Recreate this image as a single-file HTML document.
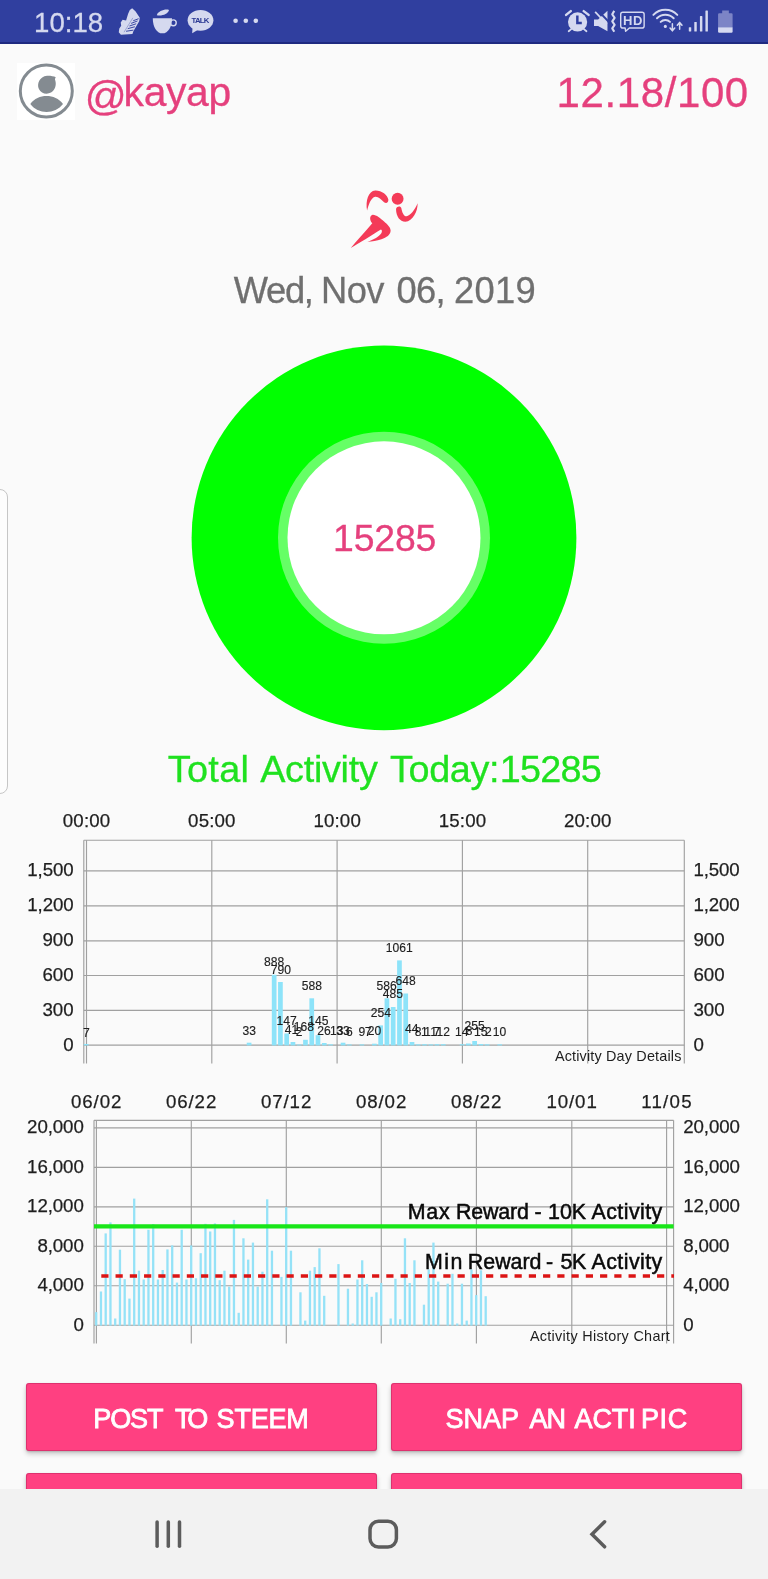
<!DOCTYPE html>
<html><head><meta charset="utf-8"><title>Actifit</title>
<style>
html,body{margin:0;padding:0;}
body{width:768px;height:1579px;background:#fafafa;position:relative;overflow:hidden;font-family:"Liberation Sans", sans-serif;}
#status{position:absolute;left:0;top:0;width:768px;height:44.3px;background:#303f9f;}
#status .sh{position:absolute;left:0;top:42.4px;width:768px;height:1.9px;background:#1f2a80;}
#handle{position:absolute;left:-10px;top:488.5px;width:16px;height:303px;border:1.6px solid #c6c6c6;border-radius:8px;background:#fdfdfd;}
#avatarbg{position:absolute;left:17px;top:63px;width:58px;height:57px;background:#fff;}
.btn{position:absolute;background:#ff4081;border-radius:3px;box-shadow:0 3px 5px rgba(0,0,0,0.2),0 1px 2px rgba(0,0,0,0.14),inset 0 0 0 1px rgba(150,20,70,0.32);}
#nav{position:absolute;left:0;top:1488.7px;width:768px;height:90px;background:#f2f2f2;}
svg{position:absolute;left:0;top:0;}
#ov{will-change:transform;opacity:0.999;}
text{font-family:"Liberation Sans", sans-serif;}
</style></head><body>
<div id="status"><div class="sh"></div></div>
<div id="handle"></div>
<div id="avatarbg"></div>
<div class="btn" style="left:25.6px;top:1383.1px;width:351px;height:67.8px;"></div>
<div class="btn" style="left:391.2px;top:1383.1px;width:350.7px;height:67.8px;"></div>
<div class="btn" style="left:25.6px;top:1472.5px;width:351px;height:67.8px;"></div>
<div class="btn" style="left:391.2px;top:1472.5px;width:350.7px;height:67.8px;"></div>
<div id="nav"></div>
<svg id="ov" width="768" height="1579" viewBox="0 0 768 1579">
<text x="34.1" y="32.2" font-size="27.6" fill="#d6daf0" textLength="69.1" lengthAdjust="spacing" stroke="#d6daf0" stroke-width="0.3">10:18</text>
<circle cx="235.6" cy="20.8" r="2.3" fill="#d6daf0"/>
<circle cx="245.8" cy="20.8" r="2.3" fill="#d6daf0"/>
<circle cx="255.8" cy="20.8" r="2.3" fill="#d6daf0"/>
<circle cx="46.3" cy="91" r="26" fill="none" stroke="#848b91" stroke-width="3"/>
<path d="M47,75.8 C50,75.6 53.5,76.2 55.8,77.2 C55,78.3 54.8,79.4 55.3,80.6 C56.6,85 55.2,90.2 51,92.6 C46.5,95 41,93.4 38.9,89 C36.6,84 39.5,76.6 47,75.8 Z" fill="#848b91"/>
<path d="M30.3,104 C38,93.4 55,93.4 63,104 C55,114.5 38,114.5 30.3,104 Z" fill="#848b91"/>
<text x="84.7" y="109.5" font-size="41.3" fill="#e5407d" stroke="#e5407d" stroke-width="0.3">@</text>
<text x="123.6" y="106.3" font-size="40.8" fill="#e5407d" textLength="107.5" lengthAdjust="spacing" stroke="#e5407d" stroke-width="0.3">kayap</text>
<text x="556.5" y="106.5" font-size="42" fill="#e5407d" textLength="191.7" lengthAdjust="spacing" stroke="#e5407d" stroke-width="0.3">12.18/100</text>
<svg x="345" y="185" width="80" height="70" viewBox="0 0 768 672">
<g fill="#f43b58">
<circle cx="505" cy="132" r="57"/>
<path d="M212,245 C195,150 225,55 290,52 C350,50 410,95 416,140 C418,170 395,182 375,165 C345,135 320,108 290,112 C250,120 225,190 212,245 Z"/>
<path d="M490,235 C488,205 535,195 541,222 C548,262 565,300 590,300 C630,290 670,240 697,175 C700,250 650,350 580,352 C525,352 492,300 490,235 Z"/>
<path d="M265,285 C300,283 340,320 375,350 C410,380 440,410 438,440 C436,480 400,505 350,520 C305,533 260,542 215,545 C275,524 330,495 350,460 C358,445 355,430 345,427 C250,486 140,556 55,605 C120,530 200,440 262,368 C245,350 225,300 265,285 Z"/>
</g></svg>
<text x="233.7" y="302.5" font-size="36.3" fill="#6f6f6f" textLength="80.2" lengthAdjust="spacing" stroke="#6f6f6f" stroke-width="0.3">Wed,</text>
<text x="321.0" y="302.5" font-size="36.3" fill="#6f6f6f" textLength="63.4" lengthAdjust="spacing" stroke="#6f6f6f" stroke-width="0.3">Nov</text>
<text x="396.6" y="302.5" font-size="36.3" fill="#6f6f6f" textLength="49.1" lengthAdjust="spacing" stroke="#6f6f6f" stroke-width="0.3">06,</text>
<text x="454.0" y="302.5" font-size="36.3" fill="#6f6f6f" textLength="81.6" lengthAdjust="spacing" stroke="#6f6f6f" stroke-width="0.3">2019</text>
<circle cx="384" cy="537.8" r="192.4" fill="#00ff00"/>
<circle cx="384" cy="537.8" r="106" fill="#66ff66"/>
<circle cx="384" cy="537.8" r="96.5" fill="#ffffff"/>
<text x="333.0" y="550.7" font-size="37.4" fill="#e5407d" textLength="103.4" lengthAdjust="spacing" stroke="#e5407d" stroke-width="0.3">15285</text>
<text x="167.7" y="782.1" font-size="37.8" fill="#1fe11f" textLength="81.3" lengthAdjust="spacing" stroke="#1fe11f" stroke-width="0.3">Total</text>
<text x="260.2" y="782.1" font-size="37.8" fill="#1fe11f" textLength="117.6" lengthAdjust="spacing" stroke="#1fe11f" stroke-width="0.3">Activity</text>
<text x="390.0" y="782.1" font-size="37.8" fill="#1fe11f" textLength="109.4" lengthAdjust="spacing" stroke="#1fe11f" stroke-width="0.3">Today:</text>
<text x="499.8" y="782.1" font-size="37.8" fill="#1fe11f" textLength="102.0" lengthAdjust="spacing" stroke="#1fe11f" stroke-width="0.3">15285</text>
<line x1="83.8" y1="870.8" x2="684.3" y2="870.8" stroke="#a0a0a0" stroke-width="1.15"/>
<text x="73.6" y="876.3" font-size="18.7" fill="#1e1e1e" text-anchor="end" textLength="46.3" lengthAdjust="spacing" stroke="#1e1e1e" stroke-width="0.25">1,500</text>
<text x="693.4" y="876.3" font-size="18.7" fill="#1e1e1e" textLength="46.3" lengthAdjust="spacing" stroke="#1e1e1e" stroke-width="0.25">1,500</text>
<line x1="83.8" y1="905.9" x2="684.3" y2="905.9" stroke="#a0a0a0" stroke-width="1.15"/>
<text x="73.6" y="911.4" font-size="18.7" fill="#1e1e1e" text-anchor="end" textLength="46.3" lengthAdjust="spacing" stroke="#1e1e1e" stroke-width="0.25">1,200</text>
<text x="693.4" y="911.4" font-size="18.7" fill="#1e1e1e" textLength="46.3" lengthAdjust="spacing" stroke="#1e1e1e" stroke-width="0.25">1,200</text>
<line x1="83.8" y1="940.8" x2="684.3" y2="940.8" stroke="#a0a0a0" stroke-width="1.15"/>
<text x="73.6" y="946.3" font-size="18.7" fill="#1e1e1e" text-anchor="end" textLength="31.2" lengthAdjust="spacing" stroke="#1e1e1e" stroke-width="0.25">900</text>
<text x="693.4" y="946.3" font-size="18.7" fill="#1e1e1e" textLength="31.2" lengthAdjust="spacing" stroke="#1e1e1e" stroke-width="0.25">900</text>
<line x1="83.8" y1="975.5" x2="684.3" y2="975.5" stroke="#a0a0a0" stroke-width="1.15"/>
<text x="73.6" y="981.0" font-size="18.7" fill="#1e1e1e" text-anchor="end" textLength="31.2" lengthAdjust="spacing" stroke="#1e1e1e" stroke-width="0.25">600</text>
<text x="693.4" y="981.0" font-size="18.7" fill="#1e1e1e" textLength="31.2" lengthAdjust="spacing" stroke="#1e1e1e" stroke-width="0.25">600</text>
<line x1="83.8" y1="1010.3" x2="684.3" y2="1010.3" stroke="#a0a0a0" stroke-width="1.15"/>
<text x="73.6" y="1015.8" font-size="18.7" fill="#1e1e1e" text-anchor="end" textLength="31.2" lengthAdjust="spacing" stroke="#1e1e1e" stroke-width="0.25">300</text>
<text x="693.4" y="1015.8" font-size="18.7" fill="#1e1e1e" textLength="31.2" lengthAdjust="spacing" stroke="#1e1e1e" stroke-width="0.25">300</text>
<line x1="83.8" y1="1045.1" x2="684.3" y2="1045.1" stroke="#a0a0a0" stroke-width="1.15"/>
<text x="73.6" y="1050.6" font-size="18.7" fill="#1e1e1e" text-anchor="end" stroke="#1e1e1e" stroke-width="0.25">0</text>
<text x="693.4" y="1050.6" font-size="18.7" fill="#1e1e1e" stroke="#1e1e1e" stroke-width="0.25">0</text>
<line x1="83.8" y1="840.2" x2="684.3" y2="840.2" stroke="#a0a0a0" stroke-width="1.15"/>
<line x1="83.8" y1="840.2" x2="83.8" y2="1063.5" stroke="#a0a0a0" stroke-width="1.15"/>
<line x1="684.3" y1="840.2" x2="684.3" y2="1063.5" stroke="#a0a0a0" stroke-width="1.15"/>
<line x1="86.5" y1="840.2" x2="86.5" y2="1063.5" stroke="#a0a0a0" stroke-width="1.15"/>
<text x="86.5" y="827.4" font-size="18.7" fill="#1e1e1e" text-anchor="middle" textLength="47.4" lengthAdjust="spacing" stroke="#1e1e1e" stroke-width="0.25">00:00</text>
<line x1="211.8" y1="840.2" x2="211.8" y2="1063.5" stroke="#a0a0a0" stroke-width="1.15"/>
<text x="211.8" y="827.4" font-size="18.7" fill="#1e1e1e" text-anchor="middle" textLength="47.4" lengthAdjust="spacing" stroke="#1e1e1e" stroke-width="0.25">05:00</text>
<line x1="337.1" y1="840.2" x2="337.1" y2="1063.5" stroke="#a0a0a0" stroke-width="1.15"/>
<text x="337.1" y="827.4" font-size="18.7" fill="#1e1e1e" text-anchor="middle" textLength="47.4" lengthAdjust="spacing" stroke="#1e1e1e" stroke-width="0.25">10:00</text>
<line x1="462.4" y1="840.2" x2="462.4" y2="1063.5" stroke="#a0a0a0" stroke-width="1.15"/>
<text x="462.4" y="827.4" font-size="18.7" fill="#1e1e1e" text-anchor="middle" textLength="47.4" lengthAdjust="spacing" stroke="#1e1e1e" stroke-width="0.25">15:00</text>
<line x1="587.7" y1="840.2" x2="587.7" y2="1063.5" stroke="#a0a0a0" stroke-width="1.15"/>
<text x="587.7" y="827.4" font-size="18.7" fill="#1e1e1e" text-anchor="middle" textLength="47.4" lengthAdjust="spacing" stroke="#1e1e1e" stroke-width="0.25">20:00</text>
<rect x="83.85" y="1044.0" width="4.7" height="1.4" fill="#8de3f9"/>
<rect x="246.74" y="1042.7" width="4.7" height="2.7" fill="#8de3f9"/>
<rect x="271.80" y="974.8" width="4.7" height="70.6" fill="#8de3f9"/>
<rect x="278.06" y="982.0" width="4.7" height="63.4" fill="#8de3f9"/>
<rect x="284.33" y="1033.5" width="4.7" height="11.9" fill="#8de3f9"/>
<rect x="290.59" y="1042.0" width="4.7" height="3.4" fill="#8de3f9"/>
<rect x="296.86" y="1044.5" width="4.7" height="0.9" fill="#8de3f9"/>
<rect x="303.12" y="1039.8" width="4.7" height="5.6" fill="#8de3f9"/>
<rect x="309.39" y="998.3" width="4.7" height="47.1" fill="#8de3f9"/>
<rect x="315.65" y="1035.2" width="4.7" height="10.2" fill="#8de3f9"/>
<rect x="321.92" y="1043.0" width="4.7" height="2.4" fill="#8de3f9"/>
<rect x="328.18" y="1044.3" width="4.7" height="1.1" fill="#8de3f9"/>
<rect x="340.71" y="1042.7" width="4.7" height="2.7" fill="#8de3f9"/>
<rect x="346.98" y="1044.4" width="4.7" height="1.0" fill="#8de3f9"/>
<rect x="359.51" y="1044.4" width="4.7" height="1.0" fill="#8de3f9"/>
<rect x="372.04" y="1043.7" width="4.7" height="1.7" fill="#8de3f9"/>
<rect x="378.30" y="1025.4" width="4.7" height="20.0" fill="#8de3f9"/>
<rect x="384.57" y="998.3" width="4.7" height="47.1" fill="#8de3f9"/>
<rect x="390.83" y="1007.0" width="4.7" height="38.4" fill="#8de3f9"/>
<rect x="397.10" y="960.4" width="4.7" height="85.0" fill="#8de3f9"/>
<rect x="403.36" y="993.5" width="4.7" height="51.9" fill="#8de3f9"/>
<rect x="409.63" y="1042.0" width="4.7" height="3.4" fill="#8de3f9"/>
<rect x="415.89" y="1044.3" width="4.7" height="1.1" fill="#8de3f9"/>
<rect x="422.16" y="1044.2" width="4.7" height="1.2" fill="#8de3f9"/>
<rect x="428.42" y="1044.4" width="4.7" height="1.0" fill="#8de3f9"/>
<rect x="434.69" y="1044.2" width="4.7" height="1.2" fill="#8de3f9"/>
<rect x="440.95" y="1044.2" width="4.7" height="1.2" fill="#8de3f9"/>
<rect x="459.75" y="1044.2" width="4.7" height="1.2" fill="#8de3f9"/>
<rect x="466.01" y="1043.5" width="4.7" height="1.9" fill="#8de3f9"/>
<rect x="472.28" y="1041.0" width="4.7" height="4.4" fill="#8de3f9"/>
<rect x="478.54" y="1044.0" width="4.7" height="1.4" fill="#8de3f9"/>
<rect x="484.81" y="1044.3" width="4.7" height="1.1" fill="#8de3f9"/>
<rect x="497.34" y="1044.3" width="4.7" height="1.1" fill="#8de3f9"/>
<text x="86.3" y="1036.8" font-size="12.1" fill="#1e1e1e" text-anchor="middle" stroke="#1e1e1e" stroke-width="0.15">7</text>
<text x="249.2" y="1034.5" font-size="12.1" fill="#1e1e1e" text-anchor="middle" stroke="#1e1e1e" stroke-width="0.15">33</text>
<text x="274.2" y="966.1" font-size="12.1" fill="#1e1e1e" text-anchor="middle" stroke="#1e1e1e" stroke-width="0.15">888</text>
<text x="280.8" y="973.6" font-size="12.1" fill="#1e1e1e" text-anchor="middle" stroke="#1e1e1e" stroke-width="0.15">790</text>
<text x="286.6" y="1025.2" font-size="12.1" fill="#1e1e1e" text-anchor="middle" stroke="#1e1e1e" stroke-width="0.15">147</text>
<text x="291.5" y="1033.9" font-size="12.1" fill="#1e1e1e" text-anchor="middle" stroke="#1e1e1e" stroke-width="0.15">41</text>
<text x="299.2" y="1036.1" font-size="12.1" fill="#1e1e1e" text-anchor="middle" stroke="#1e1e1e" stroke-width="0.15">2</text>
<text x="303.9" y="1031.3" font-size="12.1" fill="#1e1e1e" text-anchor="middle" stroke="#1e1e1e" stroke-width="0.15">168</text>
<text x="311.9" y="989.7" font-size="12.1" fill="#1e1e1e" text-anchor="middle" stroke="#1e1e1e" stroke-width="0.15">588</text>
<text x="318.3" y="1025.2" font-size="12.1" fill="#1e1e1e" text-anchor="middle" stroke="#1e1e1e" stroke-width="0.15">145</text>
<text x="324.0" y="1035.2" font-size="12.1" fill="#1e1e1e" text-anchor="middle" stroke="#1e1e1e" stroke-width="0.15">26</text>
<text x="336.7" y="1035.2" font-size="12.1" fill="#1e1e1e" text-anchor="middle" stroke="#1e1e1e" stroke-width="0.15">13</text>
<text x="343.1" y="1034.8" font-size="12.1" fill="#1e1e1e" text-anchor="middle" stroke="#1e1e1e" stroke-width="0.15">33</text>
<text x="349.4" y="1036.3" font-size="12.1" fill="#1e1e1e" text-anchor="middle" stroke="#1e1e1e" stroke-width="0.15">6</text>
<text x="361.8" y="1036.0" font-size="12.1" fill="#1e1e1e" text-anchor="middle" stroke="#1e1e1e" stroke-width="0.15">9</text>
<text x="368.1" y="1036.0" font-size="12.1" fill="#1e1e1e" text-anchor="middle" stroke="#1e1e1e" stroke-width="0.15">7</text>
<text x="374.6" y="1034.9" font-size="12.1" fill="#1e1e1e" text-anchor="middle" stroke="#1e1e1e" stroke-width="0.15">20</text>
<text x="380.8" y="1016.8" font-size="12.1" fill="#1e1e1e" text-anchor="middle" stroke="#1e1e1e" stroke-width="0.15">254</text>
<text x="386.7" y="990.1" font-size="12.1" fill="#1e1e1e" text-anchor="middle" stroke="#1e1e1e" stroke-width="0.15">586</text>
<text x="392.9" y="998.4" font-size="12.1" fill="#1e1e1e" text-anchor="middle" stroke="#1e1e1e" stroke-width="0.15">485</text>
<text x="399.2" y="951.8" font-size="12.1" fill="#1e1e1e" text-anchor="middle" stroke="#1e1e1e" stroke-width="0.15">1061</text>
<text x="405.6" y="985.1" font-size="12.1" fill="#1e1e1e" text-anchor="middle" stroke="#1e1e1e" stroke-width="0.15">648</text>
<text x="411.8" y="1033.3" font-size="12.1" fill="#1e1e1e" text-anchor="middle" stroke="#1e1e1e" stroke-width="0.15">44</text>
<text x="418.0" y="1036.1" font-size="12.1" fill="#1e1e1e" text-anchor="middle" stroke="#1e1e1e" stroke-width="0.15">8</text>
<text x="424.3" y="1036.1" font-size="12.1" fill="#1e1e1e" text-anchor="middle" stroke="#1e1e1e" stroke-width="0.15">1</text>
<text x="430.6" y="1036.1" font-size="12.1" fill="#1e1e1e" text-anchor="middle" stroke="#1e1e1e" stroke-width="0.15">11</text>
<text x="436.8" y="1036.1" font-size="12.1" fill="#1e1e1e" text-anchor="middle" stroke="#1e1e1e" stroke-width="0.15">7</text>
<text x="443.3" y="1036.1" font-size="12.1" fill="#1e1e1e" text-anchor="middle" stroke="#1e1e1e" stroke-width="0.15">12</text>
<text x="461.8" y="1035.7" font-size="12.1" fill="#1e1e1e" text-anchor="middle" stroke="#1e1e1e" stroke-width="0.15">14</text>
<text x="469.0" y="1035.0" font-size="12.1" fill="#1e1e1e" text-anchor="middle" stroke="#1e1e1e" stroke-width="0.15">8</text>
<text x="474.6" y="1030.2" font-size="12.1" fill="#1e1e1e" text-anchor="middle" stroke="#1e1e1e" stroke-width="0.15">255</text>
<text x="480.8" y="1035.7" font-size="12.1" fill="#1e1e1e" text-anchor="middle" stroke="#1e1e1e" stroke-width="0.15">15</text>
<text x="488.3" y="1035.9" font-size="12.1" fill="#1e1e1e" text-anchor="middle" stroke="#1e1e1e" stroke-width="0.15">2</text>
<text x="499.4" y="1035.7" font-size="12.1" fill="#1e1e1e" text-anchor="middle" stroke="#1e1e1e" stroke-width="0.15">10</text>
<text x="554.9" y="1060.6" font-size="14.4" fill="#1e1e1e" textLength="126.5" lengthAdjust="spacing">Activity Day Details</text>
<line x1="94.0" y1="1127.9" x2="673.6" y2="1127.9" stroke="#a0a0a0" stroke-width="1.15"/>
<text x="83.8" y="1133.3" font-size="18.7" fill="#1e1e1e" text-anchor="end" textLength="56.7" lengthAdjust="spacing" stroke="#1e1e1e" stroke-width="0.25">20,000</text>
<text x="683.2" y="1133.3" font-size="18.7" fill="#1e1e1e" textLength="56.7" lengthAdjust="spacing" stroke="#1e1e1e" stroke-width="0.25">20,000</text>
<line x1="94.0" y1="1167.3" x2="673.6" y2="1167.3" stroke="#a0a0a0" stroke-width="1.15"/>
<text x="83.8" y="1172.7" font-size="18.7" fill="#1e1e1e" text-anchor="end" textLength="56.7" lengthAdjust="spacing" stroke="#1e1e1e" stroke-width="0.25">16,000</text>
<text x="683.2" y="1172.7" font-size="18.7" fill="#1e1e1e" textLength="56.7" lengthAdjust="spacing" stroke="#1e1e1e" stroke-width="0.25">16,000</text>
<line x1="94.0" y1="1206.8" x2="673.6" y2="1206.8" stroke="#a0a0a0" stroke-width="1.15"/>
<text x="83.8" y="1212.2" font-size="18.7" fill="#1e1e1e" text-anchor="end" textLength="56.7" lengthAdjust="spacing" stroke="#1e1e1e" stroke-width="0.25">12,000</text>
<text x="683.2" y="1212.2" font-size="18.7" fill="#1e1e1e" textLength="56.7" lengthAdjust="spacing" stroke="#1e1e1e" stroke-width="0.25">12,000</text>
<line x1="94.0" y1="1246.2" x2="673.6" y2="1246.2" stroke="#a0a0a0" stroke-width="1.15"/>
<text x="83.8" y="1251.6" font-size="18.7" fill="#1e1e1e" text-anchor="end" textLength="46.3" lengthAdjust="spacing" stroke="#1e1e1e" stroke-width="0.25">8,000</text>
<text x="683.2" y="1251.6" font-size="18.7" fill="#1e1e1e" textLength="46.3" lengthAdjust="spacing" stroke="#1e1e1e" stroke-width="0.25">8,000</text>
<line x1="94.0" y1="1285.7" x2="673.6" y2="1285.7" stroke="#a0a0a0" stroke-width="1.15"/>
<text x="83.8" y="1291.1" font-size="18.7" fill="#1e1e1e" text-anchor="end" textLength="46.3" lengthAdjust="spacing" stroke="#1e1e1e" stroke-width="0.25">4,000</text>
<text x="683.2" y="1291.1" font-size="18.7" fill="#1e1e1e" textLength="46.3" lengthAdjust="spacing" stroke="#1e1e1e" stroke-width="0.25">4,000</text>
<line x1="94.0" y1="1325.2" x2="673.6" y2="1325.2" stroke="#a0a0a0" stroke-width="1.15"/>
<text x="83.8" y="1330.6" font-size="18.7" fill="#1e1e1e" text-anchor="end" stroke="#1e1e1e" stroke-width="0.25">0</text>
<text x="683.2" y="1330.6" font-size="18.7" fill="#1e1e1e" stroke="#1e1e1e" stroke-width="0.25">0</text>
<line x1="94.0" y1="1120.3" x2="673.6" y2="1120.3" stroke="#a0a0a0" stroke-width="1.15"/>
<line x1="94.0" y1="1120.3" x2="94.0" y2="1343.5" stroke="#a0a0a0" stroke-width="1.15"/>
<line x1="673.6" y1="1120.3" x2="673.6" y2="1343.5" stroke="#a0a0a0" stroke-width="1.15"/>
<line x1="96.4" y1="1120.3" x2="96.4" y2="1343.5" stroke="#a0a0a0" stroke-width="1.15"/>
<text x="96.2" y="1107.5" font-size="18.7" fill="#1e1e1e" text-anchor="middle" textLength="50.4" lengthAdjust="spacing" stroke="#1e1e1e" stroke-width="0.25">06/02</text>
<line x1="191.3" y1="1120.3" x2="191.3" y2="1343.5" stroke="#a0a0a0" stroke-width="1.15"/>
<text x="191.1" y="1107.5" font-size="18.7" fill="#1e1e1e" text-anchor="middle" textLength="50.4" lengthAdjust="spacing" stroke="#1e1e1e" stroke-width="0.25">06/22</text>
<line x1="286.3" y1="1120.3" x2="286.3" y2="1343.5" stroke="#a0a0a0" stroke-width="1.15"/>
<text x="286.1" y="1107.5" font-size="18.7" fill="#1e1e1e" text-anchor="middle" textLength="50.4" lengthAdjust="spacing" stroke="#1e1e1e" stroke-width="0.25">07/12</text>
<line x1="381.3" y1="1120.3" x2="381.3" y2="1343.5" stroke="#a0a0a0" stroke-width="1.15"/>
<text x="381.1" y="1107.5" font-size="18.7" fill="#1e1e1e" text-anchor="middle" textLength="50.4" lengthAdjust="spacing" stroke="#1e1e1e" stroke-width="0.25">08/02</text>
<line x1="476.4" y1="1120.3" x2="476.4" y2="1343.5" stroke="#a0a0a0" stroke-width="1.15"/>
<text x="476.2" y="1107.5" font-size="18.7" fill="#1e1e1e" text-anchor="middle" textLength="50.4" lengthAdjust="spacing" stroke="#1e1e1e" stroke-width="0.25">08/22</text>
<line x1="571.8" y1="1120.3" x2="571.8" y2="1343.5" stroke="#a0a0a0" stroke-width="1.15"/>
<text x="571.6" y="1107.5" font-size="18.7" fill="#1e1e1e" text-anchor="middle" textLength="50.4" lengthAdjust="spacing" stroke="#1e1e1e" stroke-width="0.25">10/01</text>
<line x1="666.6" y1="1120.3" x2="666.6" y2="1343.5" stroke="#a0a0a0" stroke-width="1.15"/>
<text x="666.4" y="1107.5" font-size="18.7" fill="#1e1e1e" text-anchor="middle" textLength="50.4" lengthAdjust="spacing" stroke="#1e1e1e" stroke-width="0.25">11/05</text>
<rect x="95.05" y="1312.1" width="2.3" height="13.5" fill="#95e2f7"/>
<rect x="99.80" y="1291.5" width="2.3" height="34.1" fill="#95e2f7"/>
<rect x="104.55" y="1233.4" width="2.3" height="92.2" fill="#95e2f7"/>
<rect x="109.30" y="1222.4" width="2.3" height="103.2" fill="#95e2f7"/>
<rect x="114.05" y="1318.5" width="2.3" height="7.1" fill="#95e2f7"/>
<rect x="118.80" y="1249.7" width="2.3" height="75.9" fill="#95e2f7"/>
<rect x="123.55" y="1279.2" width="2.3" height="46.4" fill="#95e2f7"/>
<rect x="128.30" y="1298.6" width="2.3" height="27.0" fill="#95e2f7"/>
<rect x="133.05" y="1198.6" width="2.3" height="127.0" fill="#95e2f7"/>
<rect x="137.80" y="1270.7" width="2.3" height="54.9" fill="#95e2f7"/>
<rect x="142.55" y="1279.5" width="2.3" height="46.1" fill="#95e2f7"/>
<rect x="147.30" y="1229.8" width="2.3" height="95.8" fill="#95e2f7"/>
<rect x="152.05" y="1224.1" width="2.3" height="101.5" fill="#95e2f7"/>
<rect x="156.80" y="1279.5" width="2.3" height="46.1" fill="#95e2f7"/>
<rect x="161.55" y="1270.0" width="2.3" height="55.6" fill="#95e2f7"/>
<rect x="166.30" y="1249.4" width="2.3" height="76.2" fill="#95e2f7"/>
<rect x="171.05" y="1245.4" width="2.3" height="80.2" fill="#95e2f7"/>
<rect x="175.80" y="1282.6" width="2.3" height="43.0" fill="#95e2f7"/>
<rect x="180.55" y="1229.8" width="2.3" height="95.8" fill="#95e2f7"/>
<rect x="185.30" y="1279.5" width="2.3" height="46.1" fill="#95e2f7"/>
<rect x="190.05" y="1245.4" width="2.3" height="80.2" fill="#95e2f7"/>
<rect x="194.80" y="1278.3" width="2.3" height="47.3" fill="#95e2f7"/>
<rect x="199.55" y="1253.2" width="2.3" height="72.4" fill="#95e2f7"/>
<rect x="204.30" y="1223.8" width="2.3" height="101.8" fill="#95e2f7"/>
<rect x="209.05" y="1231.5" width="2.3" height="94.1" fill="#95e2f7"/>
<rect x="213.80" y="1223.4" width="2.3" height="102.2" fill="#95e2f7"/>
<rect x="218.55" y="1280.2" width="2.3" height="45.4" fill="#95e2f7"/>
<rect x="223.30" y="1270.7" width="2.3" height="54.9" fill="#95e2f7"/>
<rect x="228.05" y="1286.6" width="2.3" height="39.0" fill="#95e2f7"/>
<rect x="232.80" y="1219.9" width="2.3" height="105.7" fill="#95e2f7"/>
<rect x="237.55" y="1312.8" width="2.3" height="12.8" fill="#95e2f7"/>
<rect x="242.30" y="1238.3" width="2.3" height="87.3" fill="#95e2f7"/>
<rect x="247.05" y="1259.6" width="2.3" height="66.0" fill="#95e2f7"/>
<rect x="251.80" y="1242.6" width="2.3" height="83.0" fill="#95e2f7"/>
<rect x="256.55" y="1286.6" width="2.3" height="39.0" fill="#95e2f7"/>
<rect x="261.30" y="1271.7" width="2.3" height="53.9" fill="#95e2f7"/>
<rect x="266.05" y="1199.3" width="2.3" height="126.3" fill="#95e2f7"/>
<rect x="270.80" y="1250.7" width="2.3" height="74.9" fill="#95e2f7"/>
<rect x="280.30" y="1276.9" width="2.3" height="48.7" fill="#95e2f7"/>
<rect x="285.05" y="1207.1" width="2.3" height="118.5" fill="#95e2f7"/>
<rect x="289.80" y="1250.7" width="2.3" height="74.9" fill="#95e2f7"/>
<rect x="299.30" y="1292.3" width="2.3" height="33.3" fill="#95e2f7"/>
<rect x="304.05" y="1320.6" width="2.3" height="5.0" fill="#95e2f7"/>
<rect x="308.80" y="1270.7" width="2.3" height="54.9" fill="#95e2f7"/>
<rect x="313.55" y="1267.1" width="2.3" height="58.5" fill="#95e2f7"/>
<rect x="318.30" y="1248.3" width="2.3" height="77.3" fill="#95e2f7"/>
<rect x="323.05" y="1295.8" width="2.3" height="29.8" fill="#95e2f7"/>
<rect x="337.30" y="1264.1" width="2.3" height="61.5" fill="#95e2f7"/>
<rect x="346.80" y="1288.7" width="2.3" height="36.9" fill="#95e2f7"/>
<rect x="351.55" y="1323.5" width="2.3" height="2.1" fill="#95e2f7"/>
<rect x="356.30" y="1279.5" width="2.3" height="46.1" fill="#95e2f7"/>
<rect x="361.05" y="1260.3" width="2.3" height="65.3" fill="#95e2f7"/>
<rect x="365.80" y="1284.0" width="2.3" height="41.6" fill="#95e2f7"/>
<rect x="370.55" y="1296.8" width="2.3" height="28.8" fill="#95e2f7"/>
<rect x="375.30" y="1292.3" width="2.3" height="33.3" fill="#95e2f7"/>
<rect x="380.05" y="1283.0" width="2.3" height="42.6" fill="#95e2f7"/>
<rect x="389.55" y="1318.5" width="2.3" height="7.1" fill="#95e2f7"/>
<rect x="394.30" y="1278.8" width="2.3" height="46.8" fill="#95e2f7"/>
<rect x="399.05" y="1319.2" width="2.3" height="6.4" fill="#95e2f7"/>
<rect x="403.80" y="1238.3" width="2.3" height="87.3" fill="#95e2f7"/>
<rect x="408.55" y="1283.0" width="2.3" height="42.6" fill="#95e2f7"/>
<rect x="413.30" y="1260.3" width="2.3" height="65.3" fill="#95e2f7"/>
<rect x="422.80" y="1304.7" width="2.3" height="20.9" fill="#95e2f7"/>
<rect x="427.55" y="1269.5" width="2.3" height="56.1" fill="#95e2f7"/>
<rect x="432.30" y="1242.6" width="2.3" height="83.0" fill="#95e2f7"/>
<rect x="437.05" y="1281.6" width="2.3" height="44.0" fill="#95e2f7"/>
<rect x="446.55" y="1283.7" width="2.3" height="41.9" fill="#95e2f7"/>
<rect x="451.30" y="1273.8" width="2.3" height="51.8" fill="#95e2f7"/>
<rect x="456.05" y="1323.5" width="2.3" height="2.1" fill="#95e2f7"/>
<rect x="460.80" y="1283.7" width="2.3" height="41.9" fill="#95e2f7"/>
<rect x="465.55" y="1320.6" width="2.3" height="5.0" fill="#95e2f7"/>
<rect x="470.30" y="1269.5" width="2.3" height="56.1" fill="#95e2f7"/>
<rect x="475.05" y="1295.1" width="2.3" height="30.5" fill="#95e2f7"/>
<rect x="479.80" y="1270.3" width="2.3" height="55.3" fill="#95e2f7"/>
<rect x="484.55" y="1296.2" width="2.3" height="29.4" fill="#95e2f7"/>
<line x1="94" y1="1226.4" x2="673.6" y2="1226.4" stroke="#19e619" stroke-width="4.1"/>
<line x1="101.3" y1="1276" x2="674" y2="1276" stroke="#dc1414" stroke-width="3.4" stroke-dasharray="7.2 7.05"/>
<text x="407.8" y="1219.3" font-size="21.4" fill="#0a0a0a" textLength="41.9" lengthAdjust="spacing" stroke="#0a0a0a" stroke-width="0.5">Max</text>
<text x="456.0" y="1219.3" font-size="21.4" fill="#0a0a0a" textLength="72.9" lengthAdjust="spacing" stroke="#0a0a0a" stroke-width="0.5">Reward</text>
<text x="534.4" y="1219.3" font-size="21.4" fill="#0a0a0a" stroke="#0a0a0a" stroke-width="0.5">-</text>
<text x="548.0" y="1219.3" font-size="21.4" fill="#0a0a0a" textLength="38.1" lengthAdjust="spacing" stroke="#0a0a0a" stroke-width="0.5">10K</text>
<text x="591.5" y="1219.3" font-size="21.4" fill="#0a0a0a" textLength="70.8" lengthAdjust="spacing" stroke="#0a0a0a" stroke-width="0.5">Activity</text>
<text x="425.0" y="1268.8" font-size="21.4" fill="#0a0a0a" textLength="37.5" lengthAdjust="spacing" stroke="#0a0a0a" stroke-width="0.5">Min</text>
<text x="467.8" y="1268.8" font-size="21.4" fill="#0a0a0a" textLength="73.7" lengthAdjust="spacing" stroke="#0a0a0a" stroke-width="0.5">Reward</text>
<text x="545.9" y="1268.8" font-size="21.4" fill="#0a0a0a" stroke="#0a0a0a" stroke-width="0.5">-</text>
<text x="560.6" y="1268.8" font-size="21.4" fill="#0a0a0a" textLength="25.6" lengthAdjust="spacing" stroke="#0a0a0a" stroke-width="0.5">5K</text>
<text x="591.5" y="1268.8" font-size="21.4" fill="#0a0a0a" textLength="70.8" lengthAdjust="spacing" stroke="#0a0a0a" stroke-width="0.5">Activity</text>
<text x="529.9" y="1340.6" font-size="14.4" fill="#1e1e1e" textLength="139.9" lengthAdjust="spacing">Activity History Chart</text>
<text x="93.2" y="1427.6" font-size="27" fill="#ffffff" textLength="70.3" lengthAdjust="spacing" stroke="#ffffff" stroke-width="0.85">POST</text>
<text x="175.1" y="1427.6" font-size="27" fill="#ffffff" textLength="33.2" lengthAdjust="spacing" stroke="#ffffff" stroke-width="0.85">TO</text>
<text x="216.6" y="1427.6" font-size="27" fill="#ffffff" textLength="92.2" lengthAdjust="spacing" stroke="#ffffff" stroke-width="0.85">STEEM</text>
<text x="445.6" y="1427.6" font-size="27" fill="#ffffff" textLength="73.4" lengthAdjust="spacing" stroke="#ffffff" stroke-width="0.85">SNAP</text>
<text x="529.5" y="1427.6" font-size="27" fill="#ffffff" textLength="36.5" lengthAdjust="spacing" stroke="#ffffff" stroke-width="0.85">AN</text>
<text x="574.5" y="1427.6" font-size="27" fill="#ffffff" textLength="61.3" lengthAdjust="spacing" stroke="#ffffff" stroke-width="0.85">ACTI</text>
<text x="640.9" y="1427.6" font-size="27" fill="#ffffff" textLength="46.4" lengthAdjust="spacing" stroke="#ffffff" stroke-width="0.85">PIC</text>
<line x1="157.1" y1="1522" x2="157.1" y2="1546.3" stroke="#5c5c5c" stroke-width="3.5" stroke-linecap="round"/>
<line x1="168.3" y1="1522" x2="168.3" y2="1546.3" stroke="#5c5c5c" stroke-width="3.5" stroke-linecap="round"/>
<line x1="179.5" y1="1522" x2="179.5" y2="1546.3" stroke="#5c5c5c" stroke-width="3.5" stroke-linecap="round"/>
<rect x="370" y="1521.2" width="26.4" height="25.8" rx="8.5" ry="8.5" fill="none" stroke="#5c5c5c" stroke-width="3.5"/>
<path d="M604.6,1521.8 L592,1534.3 L604.6,1546.8" fill="none" stroke="#5c5c5c" stroke-width="3.5" stroke-linecap="round" stroke-linejoin="miter"/>
<g transform="translate(112,2) scale(0.09375)">
<path d="M215,66 L252,100 L296,168 L290,205 L228,312 L218,342 L95,350 L72,322 L78,282 L98,252 L93,218 L113,190 L150,196 L172,125 L190,84 Z" fill="#d6daf0"/>
<line x1="150" y1="312" x2="228" y2="300" stroke="#303f9f" stroke-width="10"/>
<line x1="168" y1="284" x2="244" y2="264" stroke="#303f9f" stroke-width="10"/>
<line x1="186" y1="256" x2="258" y2="232" stroke="#303f9f" stroke-width="10"/>
<line x1="204" y1="228" x2="272" y2="202" stroke="#303f9f" stroke-width="10"/>
<line x1="226" y1="200" x2="284" y2="178" stroke="#303f9f" stroke-width="10"/>
<line x1="128" y1="322" x2="222" y2="170" stroke="#303f9f" stroke-width="8" opacity="0.45"/>
<path d="M435,172 L640,172 C640,262 600,334 537,334 C475,334 435,262 435,172 Z" fill="#d6daf0"/>
<circle cx="654" cy="222" r="31" fill="none" stroke="#d6daf0" stroke-width="15"/>
<path d="M478,140 C490,100 560,72 608,84 C600,126 530,152 478,140 Z" fill="#d6daf0"/>
</g>
<ellipse cx="200.5" cy="20.3" rx="12.9" ry="10.4" fill="#d6daf0"/>
<path d="M192.6,27 L192.2,33.2 L198.4,29.6 Z" fill="#d6daf0"/>
<text x="200.5" y="23.2" font-size="7.8" fill="#2c3a94" text-anchor="middle" textLength="17.8" lengthAdjust="spacing" font-weight="bold">TALK</text>
<g transform="translate(560,2) scale(0.11719)">
<circle cx="150" cy="170" r="82" fill="#d6daf0"/>
<path d="M52,110 L92,78 M202,78 L244,110" stroke="#d6daf0" stroke-width="21" stroke-linecap="round" fill="none"/>
<path d="M96,232 L74,250 M204,232 L226,250" stroke="#d6daf0" stroke-width="15" stroke-linecap="round" fill="none"/>
<path d="M148,115 L148,180 L186,180" stroke="#303f9f" stroke-width="21" fill="none"/>
<path d="M290,150 L325,150 L405,75 L405,250 L325,205 L290,205 Z" fill="#d6daf0"/>
<line x1="318" y1="66" x2="424" y2="178" stroke="#303f9f" stroke-width="17"/>
<line x1="300" y1="84" x2="400" y2="190" stroke="#d6daf0" stroke-width="15"/>
<path d="M463,76 L446,105 L466,135 L446,165 L466,195 L446,225 L463,254" stroke="#d6daf0" stroke-width="18" fill="none" stroke-linejoin="round"/>
<path d="M536,88 L700,88 Q718,88 718,106 L718,204 Q718,222 700,222 L592,222 L560,250 L556,222 L536,222 Q518,222 518,204 L518,106 Q518,88 536,88 Z" fill="none" stroke="#d6daf0" stroke-width="12" stroke-linejoin="round"/>
</g>
<text x="632.7" y="25.2" font-size="13" fill="#d6daf0" text-anchor="middle" textLength="19.6" lengthAdjust="spacing" font-weight="bold">HD</text>
<g transform="translate(648,2) scale(0.11719)">
<path d="M45.9,109.4 A142,142 0 0 1 250.1,109.4" stroke="#d6daf0" stroke-width="17" fill="none" stroke-linecap="round"/>
<path d="M76.8,139.2 A99,99 0 0 1 219.2,139.2" stroke="#d6daf0" stroke-width="17" fill="none" stroke-linecap="round"/>
<path d="M108.4,169.8 A55,55 0 0 1 187.6,169.8" stroke="#d6daf0" stroke-width="17" fill="none" stroke-linecap="round"/>
<circle cx="148" cy="208" r="13" fill="#d6daf0"/>
<path d="M208,185 L208,244 M188,222 L208,246 L228,222" stroke="#d6daf0" stroke-width="13" fill="none" stroke-linecap="round" stroke-linejoin="round"/>
<path d="M270,232 L270,176 M250,198 L270,174 L290,198" stroke="#d6daf0" stroke-width="13" fill="none" stroke-linecap="round" stroke-linejoin="round"/>
<rect x="348" y="215" width="21" height="37" rx="5" fill="#d6daf0"/>
<rect x="395" y="170" width="21" height="82" rx="5" fill="#d6daf0"/>
<rect x="443" y="120" width="21" height="132" rx="5" fill="#d6daf0"/>
<rect x="490" y="72" width="21" height="180" rx="5" fill="#d6daf0"/>
<path d="M633,72 L690,72 L690,95 L712,95 Q722,95 722,105 L722,215 L598,215 L598,105 Q598,95 608,95 L633,95 Z" fill="#7d85c6"/>
<path d="M598,215 L722,215 L722,252 Q722,262 712,262 L608,262 Q598,262 598,252 Z" fill="#d6daf0"/>
</g>
</svg>
</body></html>
